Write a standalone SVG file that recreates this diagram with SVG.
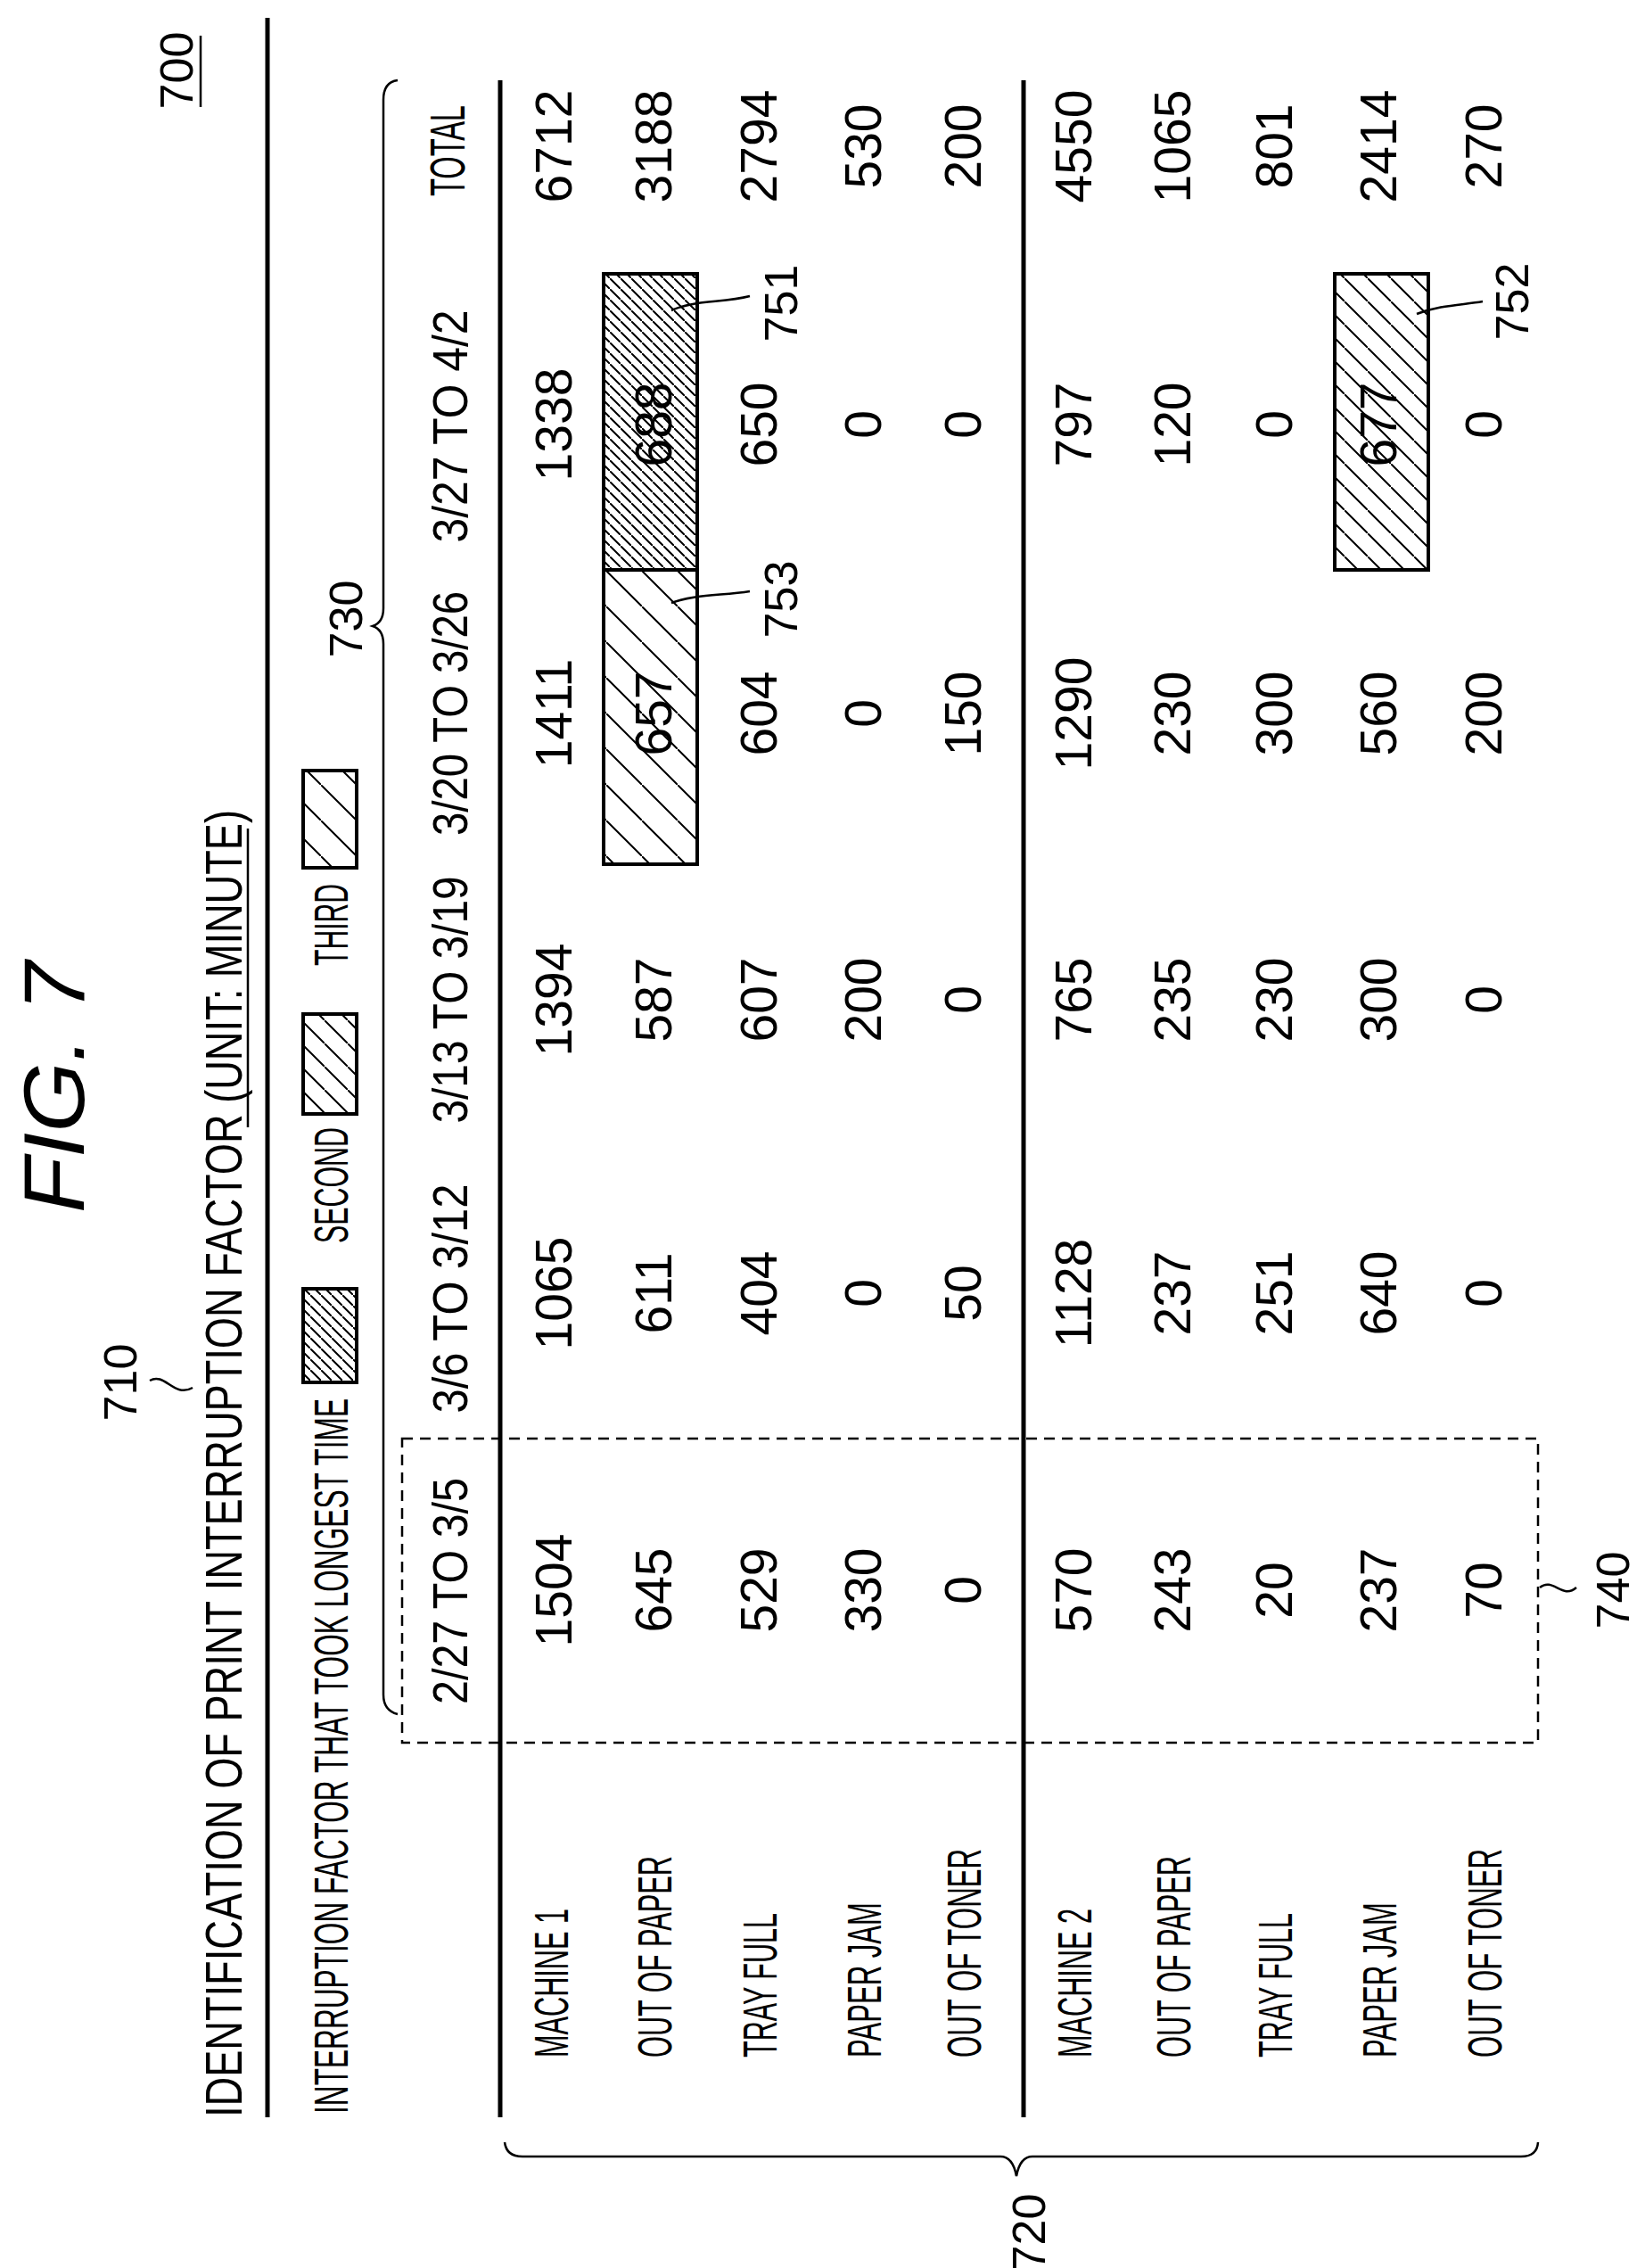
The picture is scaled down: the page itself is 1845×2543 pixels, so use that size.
<svg xmlns="http://www.w3.org/2000/svg" width="1845" height="2543" viewBox="0 0 1845 2543">
<style>
text{font-family:"Liberation Sans",Arial,sans-serif;fill:#000}
.num{font-size:57px;text-anchor:middle}
.hdr{font-size:56px;text-anchor:middle}
.lbl{font-size:54px}
.ref{font-size:52px;text-anchor:middle}
.thick{stroke:#000;stroke-width:5;fill:none}
.thin{stroke:#000;stroke-width:2.5;fill:none}
</style>
<defs>
<pattern id="h1" patternUnits="userSpaceOnUse" width="12" height="12"><path d="M-1,-1 l2,2 M0,0 l12,12 M11,11 l2,2" stroke="#000" stroke-width="2"/></pattern>
<pattern id="h2" patternUnits="userSpaceOnUse" width="26" height="26"><path d="M-1,-1 l2,2 M0,0 l26,26 M25,25 l2,2" stroke="#000" stroke-width="2"/></pattern>
<pattern id="h3" patternUnits="userSpaceOnUse" width="40" height="40"><path d="M-1,-1 l2,2 M0,0 l40,40 M39,39 l2,2" stroke="#000" stroke-width="2"/></pattern>
</defs>
<g id="title">
<text transform="translate(94,1360) rotate(-90)" font-size="97" font-style="italic" textLength="282" lengthAdjust="spacingAndGlyphs">FIG. 7</text>
<text transform="translate(216,79) rotate(-90)" class="ref">700</text>
<line x1="225" y1="40" x2="225" y2="120" class="thin"/>
<text transform="translate(271,2374) rotate(-90)" font-size="58" textLength="1466" lengthAdjust="spacingAndGlyphs">IDENTIFICATION OF PRINT INTERRUPTION FACTOR (UNIT: MINUTE)</text>
<line x1="278" y1="929" x2="278" y2="1264" class="thin"/>
<line x1="300" y1="20" x2="300" y2="2374" class="thick"/>
<text transform="translate(153,1550) rotate(-90)" class="ref">710</text>
<path d="M168,1548 C185,1538 195,1568 216,1556" class="thin"/>
</g>
<g id="legend">
<text transform="translate(390,2370) rotate(-90)" class="lbl" textLength="802" lengthAdjust="spacingAndGlyphs">INTERRUPTION FACTOR THAT TOOK LONGEST TIME</text>
<rect x="340" y="1445" width="60" height="105" fill="url(#h1)" stroke="#000" stroke-width="4"/>
<text transform="translate(390,1394) rotate(-90)" class="lbl" textLength="130" lengthAdjust="spacingAndGlyphs">SECOND</text>
<rect x="340" y="1137" width="60" height="112" fill="url(#h2)" stroke="#000" stroke-width="4"/>
<text transform="translate(390,1083) rotate(-90)" class="lbl" textLength="92" lengthAdjust="spacingAndGlyphs">THIRD</text>
<rect x="340" y="864" width="60" height="109" fill="url(#h3)" stroke="#000" stroke-width="4"/>
</g>
<g id="braces">
<path d="M446,90 Q430,92 430,112 L430,682 Q430,698 418,702 Q430,706 430,722 L430,1900 Q430,1918 446,1922" class="thin"/>
<text transform="translate(406,694) rotate(-90)" class="ref">730</text>
<path d="M566,2402 Q568,2418 586,2418 L1122,2418 Q1136,2418 1140,2440 Q1144,2418 1158,2418 L1706,2418 Q1724,2418 1725,2402" class="thin"/>
<text transform="translate(1172,2503) rotate(-90)" class="ref">720</text>
<rect x="451" y="1613" width="1274" height="341" fill="none" stroke="#000" stroke-width="2.5" stroke-dasharray="12,8"/>
<path d="M1727,1780 C1742,1768 1752,1794 1768,1780" class="thin"/>
<text transform="translate(1827,1783) rotate(-90)" class="ref">740</text>
</g>
<g id="highlights">
<rect x="677" y="639" width="105" height="330" fill="url(#h3)" stroke="#000" stroke-width="4"/>
<rect x="677" y="307" width="105" height="332" fill="url(#h1)" stroke="#000" stroke-width="4"/>
<rect x="1497" y="307" width="105" height="332" fill="url(#h2)" stroke="#000" stroke-width="4"/>
<path d="M753,348 C780,336 810,340 841,332" class="thin"/>
<text transform="translate(894,340) rotate(-90)" class="ref">751</text>
<path d="M753,676 C780,666 810,668 841,663" class="thin"/>
<text transform="translate(894,672) rotate(-90)" class="ref">753</text>
<path d="M1589,352 C1615,342 1640,342 1663,338" class="thin"/>
<text transform="translate(1714,338) rotate(-90)" class="ref">752</text>
</g>
<g id="table">
<line x1="561" y1="90" x2="561" y2="2374" class="thick"/>
<line x1="1148" y1="90" x2="1148" y2="2374" class="thick"/>
<g class="hdr">
<text class="hdr" transform="translate(524,1784) rotate(-90)" textLength="254" lengthAdjust="spacingAndGlyphs">2/27 TO 3/5</text>
<text class="hdr" transform="translate(524,1456) rotate(-90)" textLength="257" lengthAdjust="spacingAndGlyphs">3/6 TO 3/12</text>
<text class="hdr" transform="translate(524,1121) rotate(-90)" textLength="277" lengthAdjust="spacingAndGlyphs">3/13 TO 3/19</text>
<text class="hdr" transform="translate(524,800) rotate(-90)" textLength="274" lengthAdjust="spacingAndGlyphs">3/20 TO 3/26</text>
<text class="hdr" transform="translate(524,478) rotate(-90)" textLength="261" lengthAdjust="spacingAndGlyphs">3/27 TO 4/2</text>
<text class="hdr" transform="translate(521,169) rotate(-90)" textLength="102" lengthAdjust="spacingAndGlyphs">TOTAL</text>
</g>
<g id="rowlabels">
<text class="lbl" transform="translate(637,2307) rotate(-90)" textLength="167" lengthAdjust="spacingAndGlyphs">MACHINE 1</text>
<text class="lbl" transform="translate(753,2307) rotate(-90)" textLength="226" lengthAdjust="spacingAndGlyphs">OUT OF PAPER</text>
<text class="lbl" transform="translate(871,2307) rotate(-90)" textLength="162" lengthAdjust="spacingAndGlyphs">TRAY FULL</text>
<text class="lbl" transform="translate(988,2307) rotate(-90)" textLength="174" lengthAdjust="spacingAndGlyphs">PAPER JAM</text>
<text class="lbl" transform="translate(1100,2307) rotate(-90)" textLength="234" lengthAdjust="spacingAndGlyphs">OUT OF TONER</text>
<text class="lbl" transform="translate(1224,2307) rotate(-90)" textLength="167" lengthAdjust="spacingAndGlyphs">MACHINE 2</text>
<text class="lbl" transform="translate(1335,2307) rotate(-90)" textLength="226" lengthAdjust="spacingAndGlyphs">OUT OF PAPER</text>
<text class="lbl" transform="translate(1449,2307) rotate(-90)" textLength="162" lengthAdjust="spacingAndGlyphs">TRAY FULL</text>
<text class="lbl" transform="translate(1566,2307) rotate(-90)" textLength="174" lengthAdjust="spacingAndGlyphs">PAPER JAM</text>
<text class="lbl" transform="translate(1684,2307) rotate(-90)" textLength="234" lengthAdjust="spacingAndGlyphs">OUT OF TONER</text>
</g>
<g id="values">
<text class="num" transform="translate(641,1783) rotate(-90)">1504</text><text class="num" transform="translate(641,1450) rotate(-90)">1065</text><text class="num" transform="translate(641,1121) rotate(-90)">1394</text><text class="num" transform="translate(641,800) rotate(-90)">1411</text><text class="num" transform="translate(641,476) rotate(-90)">1338</text><text class="num" transform="translate(641,164) rotate(-90)">6712</text>
<text class="num" transform="translate(753,1783) rotate(-90)">645</text><text class="num" transform="translate(753,1450) rotate(-90)">611</text><text class="num" transform="translate(753,1121) rotate(-90)">587</text><text class="num" transform="translate(753,800) rotate(-90)">657</text><text class="num" transform="translate(753,476) rotate(-90)">688</text><text class="num" transform="translate(753,164) rotate(-90)">3188</text>
<text class="num" transform="translate(871,1783) rotate(-90)">529</text><text class="num" transform="translate(871,1450) rotate(-90)">404</text><text class="num" transform="translate(871,1121) rotate(-90)">607</text><text class="num" transform="translate(871,800) rotate(-90)">604</text><text class="num" transform="translate(871,476) rotate(-90)">650</text><text class="num" transform="translate(871,164) rotate(-90)">2794</text>
<text class="num" transform="translate(988,1783) rotate(-90)">330</text><text class="num" transform="translate(988,1450) rotate(-90)">0</text><text class="num" transform="translate(988,1121) rotate(-90)">200</text><text class="num" transform="translate(988,800) rotate(-90)">0</text><text class="num" transform="translate(988,476) rotate(-90)">0</text><text class="num" transform="translate(988,164) rotate(-90)">530</text>
<text class="num" transform="translate(1100,1783) rotate(-90)">0</text><text class="num" transform="translate(1100,1450) rotate(-90)">50</text><text class="num" transform="translate(1100,1121) rotate(-90)">0</text><text class="num" transform="translate(1100,800) rotate(-90)">150</text><text class="num" transform="translate(1100,476) rotate(-90)">0</text><text class="num" transform="translate(1100,164) rotate(-90)">200</text>
<text class="num" transform="translate(1224,1783) rotate(-90)">570</text><text class="num" transform="translate(1224,1450) rotate(-90)">1128</text><text class="num" transform="translate(1224,1121) rotate(-90)">765</text><text class="num" transform="translate(1224,800) rotate(-90)">1290</text><text class="num" transform="translate(1224,476) rotate(-90)">797</text><text class="num" transform="translate(1224,164) rotate(-90)">4550</text>
<text class="num" transform="translate(1335,1783) rotate(-90)">243</text><text class="num" transform="translate(1335,1450) rotate(-90)">237</text><text class="num" transform="translate(1335,1121) rotate(-90)">235</text><text class="num" transform="translate(1335,800) rotate(-90)">230</text><text class="num" transform="translate(1335,476) rotate(-90)">120</text><text class="num" transform="translate(1335,164) rotate(-90)">1065</text>
<text class="num" transform="translate(1449,1783) rotate(-90)">20</text><text class="num" transform="translate(1449,1450) rotate(-90)">251</text><text class="num" transform="translate(1449,1121) rotate(-90)">230</text><text class="num" transform="translate(1449,800) rotate(-90)">300</text><text class="num" transform="translate(1449,476) rotate(-90)">0</text><text class="num" transform="translate(1449,164) rotate(-90)">801</text>
<text class="num" transform="translate(1566,1783) rotate(-90)">237</text><text class="num" transform="translate(1566,1450) rotate(-90)">640</text><text class="num" transform="translate(1566,1121) rotate(-90)">300</text><text class="num" transform="translate(1566,800) rotate(-90)">560</text><text class="num" transform="translate(1566,476) rotate(-90)">677</text><text class="num" transform="translate(1566,164) rotate(-90)">2414</text>
<text class="num" transform="translate(1684,1783) rotate(-90)">70</text><text class="num" transform="translate(1684,1450) rotate(-90)">0</text><text class="num" transform="translate(1684,1121) rotate(-90)">0</text><text class="num" transform="translate(1684,800) rotate(-90)">200</text><text class="num" transform="translate(1684,476) rotate(-90)">0</text><text class="num" transform="translate(1684,164) rotate(-90)">270</text>
</g>
</g>
</svg>
